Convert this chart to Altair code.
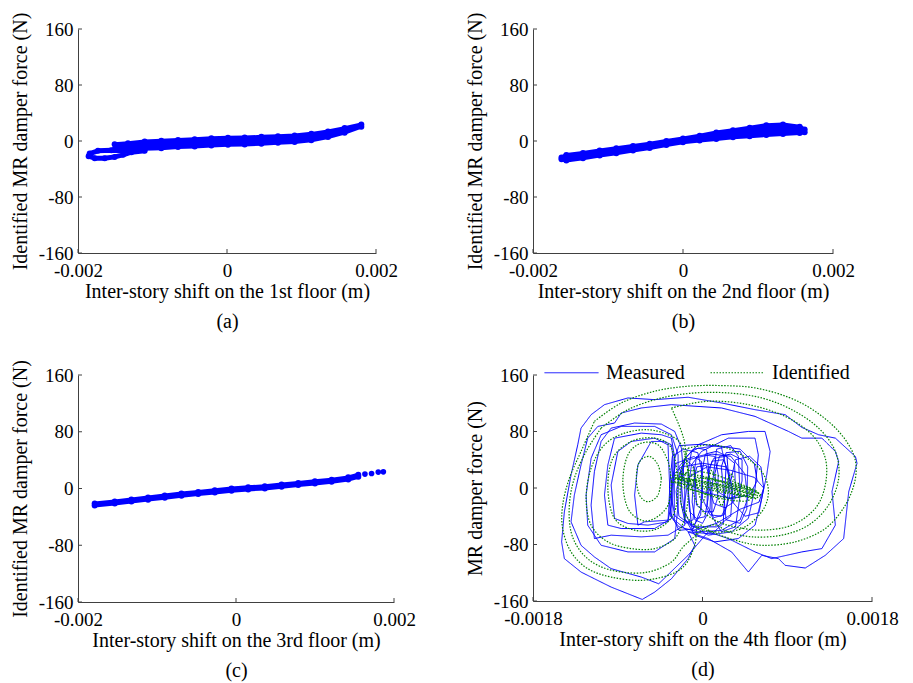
import altair as alt
import pandas as pd

FONT = "Liberation Serif"
BLUE = "#0000FF"
GREEN = "#008000"
AXIS_GREY = "#404040"

# ---------------- tick values ----------------
x_ticks_abc = [-0.002, 0, 0.002]
x_ticks_d = [-0.0018, 0, 0.0018]
y_ticks = [-160, -80, 0, 80, 160]

# ---------------- panel (a): 1st floor ----------------
a_x = [-0.001508, -0.001329, -0.001105, -0.000882, -0.000658, -0.000434, -0.000210, 0.000013,
       0.000237, 0.000461, 0.000684, 0.000908, 0.001132, 0.001356, 0.001579, 0.001803]
a_hi = [-4.6, -3.1, -0.8, 0.2, 1.6, 2.6, 4.0, 4.5, 5.0, 5.9, 6.9, 7.9, 10.2, 13.6, 18.4, 23.6]
a_lo = [-12.0, -12.0, -11.1, -10.2, -8.7, -7.7, -6.3, -5.4, -4.9, -3.9, -2.5, -1.5, 0.9, 5.6, 11.9, 20.5]
a_loop_x = [-0.001329, -0.001553, -0.001732, -0.001843, -0.001857, -0.001776, -0.001642,
            -0.001508, -0.001396, -0.001284, -0.001105]
a_loop_y = [-14.1, -13.1, -14.1, -17.9, -21.7, -24.6, -24.6, -22.7, -19.8, -16.0, -14.1]

# ---------------- panel (b): 2nd floor ----------------
b_x = [-0.001620, -0.001556, -0.001333, -0.001111, -0.000889, -0.000667, -0.000444, -0.000222,
       0.0, 0.000222, 0.000444, 0.000667, 0.000889, 0.001111, 0.001333, 0.001556, 0.001622]
b_hi = [-23.5, -20.0, -17.2, -13.4, -10.5, -7.2, -3.9, -0.1, 3.7, 7.5, 12.2, 15.5, 18.9, 22.6, 23.6, 20.3, 16.5]
b_lo = [-26.0, -27.9, -24.5, -20.8, -17.4, -13.6, -9.9, -5.6, -1.8, 0.6, 2.9, 5.3, 6.7, 8.6, 10.1, 11.5, 12.5]

# ---------------- panel (c): 3rd floor ----------------
c_x = [-0.001789, -0.001535, -0.001324, -0.001113, -0.000902, -0.000691, -0.000479, -0.000268,
       -0.000057, 0.000154, 0.000365, 0.000577, 0.000788, 0.000999, 0.001210, 0.001421, 0.001548]
c_hi = [-21.1, -18.3, -15.5, -12.7, -9.9, -7.1, -4.8, -2.5, -0.1, 1.7, 3.1, 5.5, 7.8, 10.1, 12.5, 15.7, 19.4]
c_lo = [-24.1, -21.3, -18.5, -15.7, -12.9, -10.1, -7.8, -5.5, -3.1, -1.3, 0.1, 2.5, 4.8, 7.1, 9.5, 12.7, 16.4]
c_dot_x = [0.001632, 0.001716, 0.001801, 0.001865]
c_dot_y = [20.3, 21.2, 23.1, 23.5]

# ---------------- panel (d): 4th floor, measured loops ----------------
measured_loops = [
    [(-0.000792, 127.5), (-0.000508, 125.1), (-0.000153, 128.5), (0.000203, 120.4), (0.000558, 110.9),
     (0.000878, 103.8), (0.001055, 85.8), (0.001233, 75.4), (0.001411, 70.6), (0.001624, 44.6),
     (0.001641, 35.1), (0.001553, -5.2), (0.001499, -71.6), (0.001304, -95.3), (0.001091, -113.3),
     (0.000878, -109.5), (0.000807, -100.0), (0.000629, -95.3), (0.000487, -119.0), (0.000309, -90.5),
     (0.000060, -71.6), (-0.000153, -62.1), (-0.000082, -81.1), (-0.000153, -100.0), (-0.000330, -128.5),
     (-0.000508, -147.4), (-0.000640, -157.8), (-0.000970, -140.3), (-0.001148, -128.5), (-0.001290, -119.0),
     (-0.001467, -100.0), (-0.001496, -76.3), (-0.001467, -33.7), (-0.001396, 18.5), (-0.001325, 61.1),
     (-0.001290, 84.8), (-0.001183, 103.8), (-0.001041, 118.0), (-0.000792, 127.5)],
    [(-0.000650, 113.3), (-0.000330, 118.0), (0.000203, 113.3), (0.000558, 101.4), (0.000913, 80.1),
     (0.001055, 70.6), (0.001268, 70.6), (0.001411, 51.7), (0.001446, 37.4), (0.001375, -5.2),
     (0.001411, -52.6), (0.001268, -85.8), (0.001055, -90.5), (0.000735, -100.0), (0.000558, -90.5),
     (0.000274, -71.6), (0.000060, -62.1), (-0.000153, -95.3), (-0.000465, -135.6), (-0.000650, -126.1),
     (-0.000970, -114.2), (-0.001148, -97.6), (-0.001290, -81.1), (-0.001396, -47.9), (-0.001361, -10.0),
     (-0.001290, 32.7), (-0.001219, 70.6), (-0.001112, 87.2), (-0.000934, 92.0), (-0.000863, 106.2),
     (-0.000650, 113.3)],
    [(-0.000046, 61.1), (0.000203, 75.4), (0.000487, 80.1), (0.000664, 80.1), (0.000718, 51.7),
     (0.000682, 18.5), (0.000629, -14.7), (0.000558, -52.6), (0.000380, -71.6), (0.000131, -76.3),
     (-0.000082, -66.8), (-0.000188, -43.1), (-0.000224, 4.3), (-0.000188, 42.2), (-0.000046, 61.1)],
    [(-0.000011, 51.7), (0.000274, 70.6), (0.000558, 70.6), (0.000593, 46.9), (0.000558, -0.5),
     (0.000487, -43.1), (0.000309, -62.1), (0.000060, -66.8), (-0.000117, -52.6), (-0.000153, -0.5),
     (-0.000117, 32.7), (-0.000011, 51.7)],
    [(-0.001148, -71.6), (-0.001183, -24.2), (-0.001148, 23.2), (-0.001077, 65.9), (-0.000970, 84.8),
     (-0.000721, 92.0), (-0.000437, 90.5), (-0.000295, 80.1), (-0.000224, 56.4), (-0.000188, -0.5),
     (-0.000188, -52.6), (-0.000366, -66.8), (-0.000650, -69.2), (-0.000970, -66.8), (-0.001148, -71.6)],
    [(-0.001077, -81.1), (-0.001219, -52.6), (-0.001236, -10.0), (-0.001183, 42.2), (-0.001077, 75.4),
     (-0.000863, 87.2), (-0.000508, 87.2), (-0.000330, 75.4), (-0.000259, 46.9), (-0.000259, -24.2),
     (-0.000295, -71.6), (-0.000508, -90.5), (-0.000792, -90.5), (-0.001077, -81.1)],
    [(-0.001005, -52.6), (-0.001041, -10.0), (-0.001005, 32.7), (-0.000934, 70.6), (-0.000650, 77.7),
     (-0.000437, 75.4), (-0.000330, 70.6), (-0.000295, 42.2), (-0.000330, -43.1), (-0.000508, -57.4),
     (-0.000863, -57.4), (-0.001005, -52.6)],
    [(-0.000934, -43.1), (-0.000970, 4.3), (-0.000899, 51.7), (-0.000757, 65.9), (-0.000508, 70.6),
     (-0.000366, 61.1), (-0.000348, -0.5), (-0.000366, -47.9), (-0.000579, -52.6), (-0.000792, -50.2),
     (-0.000934, -43.1)],
    [(-0.000686, -52.6), (-0.000721, -10.0), (-0.000686, 32.7), (-0.000544, 65.9), (-0.000401, 65.9),
     (-0.000330, 61.1), (-0.000313, 42.2), (-0.000330, -24.2), (-0.000366, -45.5), (-0.000615, -47.9),
     (-0.000686, -52.6)],
    [(-0.000153, 23.2), (-0.000117, 51.7), (-0.000046, 56.4), (0.000043, 54.0), (0.000068, 23.2),
     (0.000060, -14.7), (0.000025, -40.8), (-0.000064, -43.1), (-0.000135, -33.7), (-0.000153, -10.0),
     (-0.000153, 23.2)],
    [(-0.000082, 28.0), (-0.000064, 44.6), (0.000025, 46.9), (0.000131, 44.6), (0.000167, 18.5),
     (0.000160, -14.7), (0.000113, -33.7), (0.000025, -33.7), (-0.000064, -24.2), (-0.000082, 28.0)],
    [(-0.000224, 18.5), (-0.000188, 40.0), (-0.000090, 44.6), (-0.000011, 37.4), (0.0, 0.0),
     (-0.000020, -38.0), (-0.000090, -52.6), (-0.000190, -45.5), (-0.000230, -20.0), (-0.000224, 18.5)],
    [(-0.000010, 20.0), (0.000030, 48.0), (0.000150, 52.0), (0.000260, 45.0), (0.000280, 10.0),
     (0.000260, -25.0), (0.000200, -40.0), (0.000080, -38.0), (0.0, -15.0), (-0.000010, 20.0)],
    [(0.000060, 25.0), (0.000120, 42.0), (0.000250, 45.0), (0.000340, 35.0), (0.000350, 0.0),
     (0.000330, -20.0), (0.000240, -28.0), (0.000120, -22.0), (0.000070, 0.0), (0.000060, 25.0)],
    [(-0.000330, 10.0), (-0.000280, 35.0), (-0.000180, 40.0), (-0.000090, 30.0), (-0.000080, -10.0),
     (-0.000100, -45.0), (-0.000180, -50.0), (-0.000290, -40.0), (-0.000330, -15.0), (-0.000330, 10.0)],
    [(0.000130, 20.0), (0.000180, 45.0), (0.000300, 48.0), (0.000420, 40.0), (0.000420, 10.0),
     (0.000380, -10.0), (0.000280, -15.0), (0.000160, -5.0), (0.000130, 20.0)],
    [(-0.000250, 30.0), (-0.000100, 55.0), (0.000150, 60.0), (0.000400, 55.0), (0.000550, 35.0),
     (0.000580, 10.0), (0.000500, -10.0), (0.000300, -15.0), (0.0, -5.0), (-0.000200, 10.0), (-0.000250, 30.0)],
    [(-0.000350, -20.0), (-0.000300, 20.0), (-0.000150, 40.0), (0.000100, 48.0), (0.000300, 45.0),
     (0.000450, 20.0), (0.000480, -15.0), (0.000400, -45.0), (0.000200, -60.0), (-0.000050, -62.0),
     (-0.000250, -55.0), (-0.000340, -40.0), (-0.000350, -20.0)],
    [(-0.000280, -5.0), (-0.000220, 30.0), (0.0, 35.0), (0.000250, 30.0), (0.000320, 0.0),
     (0.000300, -40.0), (0.000150, -55.0), (-0.000100, -55.0), (-0.000250, -40.0), (-0.000280, -5.0)],
    [(0.000050, 10.0), (0.000100, 38.0), (0.000220, 40.0), (0.000290, 20.0), (0.000290, -10.0),
     (0.000230, -38.0), (0.000120, -42.0), (0.000050, -25.0), (0.000050, 10.0)],
    [(-0.000100, 5.0), (-0.000060, 30.0), (0.000040, 32.0), (0.000090, 5.0), (0.000080, -30.0),
     (0.0, -50.0), (-0.000080, -45.0), (-0.000110, -20.0), (-0.000100, 5.0)],
    [(-0.000200, -30.0), (-0.000150, 15.0), (0.000050, 30.0), (0.000300, 25.0), (0.000550, 15.0),
     (0.000650, 0.0), (0.000600, -20.0), (0.000400, -30.0), (0.000150, -50.0), (-0.000100, -60.0),
     (-0.000200, -30.0)],
    [(-0.000300, 40.0), (-0.000250, 60.0), (0.0, 62.0), (0.000200, 58.0), (0.000250, 30.0),
     (0.000220, -50.0), (0.000100, -65.0), (-0.000150, -62.0), (-0.000300, -45.0), (-0.000300, 40.0)],
    [(0.000200, 30.0), (0.000250, 50.0), (0.000400, 52.0), (0.000480, 30.0), (0.000470, -30.0),
     (0.000400, -50.0), (0.000250, -45.0), (0.000200, 30.0)],
    [(-0.000350, 0.0), (-0.000320, 45.0), (-0.000200, 55.0), (-0.000050, 50.0), (0.0, 20.0),
     (-0.000020, -30.0), (-0.000100, -58.0), (-0.000250, -60.0), (-0.000340, -35.0), (-0.000350, 0.0)],
    [(0.000100, 0.0), (0.000150, 55.0), (0.000300, 60.0), (0.000380, 45.0), (0.000400, -10.0),
     (0.000350, -55.0), (0.000200, -62.0), (0.000100, -40.0), (0.000100, 0.0)],
    [(0.000300, 10.0), (0.000350, 40.0), (0.000500, 45.0), (0.000620, 30.0), (0.000650, 0.0),
     (0.000600, -35.0), (0.000450, -40.0), (0.000320, -20.0), (0.000300, 10.0)],
]

# ---------------- panel (d): 4th floor, identified loops ----------------
identified_loops = [
    [(-0.001148, 94.3), (-0.000863, 120.4), (-0.000508, 137.0), (-0.000153, 144.1), (0.000203, 145.0),
     (0.000558, 141.7), (0.000913, 128.5), (0.001197, 108.5), (0.001446, 80.1), (0.001606, 46.9),
     (0.001624, 13.7), (0.001517, -24.2), (0.001304, -57.4), (0.000984, -76.3), (0.000629, -81.1),
     (0.000345, -73.9), (0.000096, -62.1), (-0.000046, -52.6), (-0.000082, -81.1), (-0.000188, -109.5),
     (-0.000366, -123.7), (-0.000650, -130.8), (-0.000970, -126.1), (-0.001219, -114.2), (-0.001396, -90.5),
     (-0.001485, -57.4), (-0.001485, -24.2), (-0.001414, 13.7), (-0.001290, 51.7), (-0.001148, 94.3)],
    [(-0.001077, 84.8), (-0.000792, 110.9), (-0.000437, 127.5), (-0.000082, 134.6), (0.000274, 134.6),
     (0.000629, 127.5), (0.000949, 110.9), (0.001233, 84.8), (0.001411, 51.7), (0.001446, 13.7),
     (0.001339, -24.2), (0.001126, -52.6), (0.000842, -66.8), (0.000522, -69.2), (0.000274, -62.1),
     (0.000096, -52.6), (-0.000188, -81.1), (-0.000330, -104.8), (-0.000579, -119.0), (-0.000863, -119.0),
     (-0.001112, -109.5), (-0.001290, -90.5), (-0.001396, -62.1), (-0.001414, -24.2), (-0.001361, 13.7),
     (-0.001236, 51.7), (-0.001077, 84.8)],
    [(-0.000330, 113.3), (0.000060, 122.8), (0.000487, 118.0), (0.000878, 101.4), (0.001162, 75.4),
     (0.001304, 42.2), (0.001304, 4.3), (0.001197, -28.9), (0.000949, -52.6), (0.000629, -59.7),
     (0.000345, -55.0), (0.000131, -45.5), (-0.000046, -24.2), (-0.000150, 20.0), (-0.000200, 70.0),
     (-0.000330, 113.3)],
    [(-0.000188, -43.1), (-0.000295, -71.6), (-0.000508, -85.8), (-0.000757, -85.8), (-0.001005, -76.3),
     (-0.001183, -52.6), (-0.001236, -14.7), (-0.001183, 28.0), (-0.001041, 61.1), (-0.000828, 77.7),
     (-0.000579, 82.5), (-0.000366, 75.4), (-0.000224, 61.1), (-0.000153, 23.2), (-0.000153, -14.7),
     (-0.000188, -43.1)],
    [(-0.000259, 13.7), (-0.000295, -33.7), (-0.000473, -57.4), (-0.000721, -59.7), (-0.000934, -43.1),
     (-0.001005, -0.5), (-0.000952, 42.2), (-0.000757, 65.9), (-0.000508, 70.6), (-0.000330, 56.4),
     (-0.000259, 13.7)],
    [(-0.000330, 9.0), (-0.000366, -24.2), (-0.000508, -43.1), (-0.000650, -45.5), (-0.000792, -28.9),
     (-0.000846, 9.0), (-0.000792, 46.9), (-0.000650, 63.5), (-0.000473, 61.1), (-0.000366, 37.4),
     (-0.000330, 9.0)],
    [(-0.000437, 13.7), (-0.000473, -10.0), (-0.000579, -19.4), (-0.000668, -10.0), (-0.000703, 13.7),
     (-0.000668, 37.4), (-0.000561, 44.6), (-0.000473, 32.7), (-0.000437, 13.7)],
    [(-0.000153, 56.4), (0.000131, 61.1), (0.000416, 46.9), (0.000629, 23.2), (0.000700, -5.2),
     (0.000629, -33.7), (0.000416, -57.4), (0.000131, -62.1), (-0.000082, -52.6), (-0.000224, -24.2),
     (-0.000224, 23.2), (-0.000153, 56.4)],
    [(-0.000320, 15.0), (-0.000100, 12.0), (0.000150, 6.0), (0.000400, 0.0), (0.000600, -8.0),
     (0.000550, -14.0), (0.000300, -8.0), (0.000050, -2.0), (-0.000200, 5.0), (-0.000320, 10.0)],
    [(-0.000280, 22.0), (-0.000050, 18.0), (0.000200, 10.0), (0.000450, 2.0), (0.000580, -5.0),
     (0.000500, -12.0), (0.000250, -5.0), (0.0, 3.0), (-0.000250, 12.0), (-0.000280, 22.0)],
    [(-0.000200, 8.0), (0.000050, 14.0), (0.000300, 4.0), (0.000500, -4.0), (0.000350, -14.0),
     (0.000100, -10.0), (-0.000150, 0.0), (-0.000200, 8.0)],
    [(-0.000150, 25.0), (0.000100, 20.0), (0.000350, 8.0), (0.000520, -2.0), (0.000480, -18.0),
     (0.000200, -15.0), (-0.000050, -5.0), (-0.000250, 5.0), (-0.000150, 25.0)],
    [(-0.000300, 18.0), (0.0, 8.0), (0.000300, 0.0), (0.000550, -10.0), (0.000300, -2.0),
     (0.0, 6.0), (-0.000300, 14.0)],
    [(-0.000100, 30.0), (0.0, -20.0), (0.000100, 25.0), (0.000200, -25.0), (0.000300, 20.0),
     (0.000400, -20.0)],
    [(-0.000300, 12.0), (-0.000050, 10.0), (0.000250, 2.0), (0.000500, -6.0), (0.000600, -12.0)],
    [(-0.000250, 20.0), (0.0, 14.0), (0.000300, 6.0), (0.000550, -4.0), (0.000620, -10.0)],
    [(-0.000320, 8.0), (-0.000100, 4.0), (0.000200, -2.0), (0.000450, -10.0), (0.000580, -16.0)],
]

SERIES = ["Measured", "Identified"]

# ---------------- helpers ----------------
X_EXPR = "datum.value < 0 ? '-' + format(-datum.value, '.4~f') : format(datum.value, '.4~f')"
Y_EXPR = "datum.value < 0 ? '-' + format(-datum.value, 'd') : format(datum.value, 'd')"


def axes(xdom, xticks, xtitle, ytitle):
    xs = alt.Scale(domain=xdom, nice=False, zero=False)
    ys = alt.Scale(domain=[-160, 160], nice=False, zero=False)
    xa = alt.Axis(values=xticks, labelExpr=X_EXPR, title=xtitle)
    ya = alt.Axis(values=y_ticks, labelExpr=Y_EXPR, title=ytitle)
    return xs, ys, xa, ya


def tick_layers(xs, ys, xa, ya, xticks, h):
    xt = alt.Chart(pd.DataFrame({"v": xticks})).mark_rule(color=AXIS_GREY, strokeWidth=1).encode(
        x=alt.X("v:Q", scale=xs, axis=xa), y=alt.value(h), y2=alt.value(h - 4))
    yt = alt.Chart(pd.DataFrame({"v": y_ticks})).mark_rule(color=AXIS_GREY, strokeWidth=1).encode(
        y=alt.Y("v:Q", scale=ys, axis=ya), x=alt.value(0), x2=alt.value(4))
    return [xt, yt]


def scatter_panel(xv, lo, hi, xtitle, w, h, extra=None):
    xs, ys, xa, ya = axes([-0.002, 0.002], x_ticks_abc, xtitle, "Identified MR damper force (N)")
    band = pd.DataFrame({"x": xv, "lo": lo, "hi": hi})
    area = alt.Chart(band).mark_area(color=BLUE, stroke=BLUE, strokeWidth=4, strokeJoin="round",
                                     opacity=1).encode(
        x=alt.X("x:Q", scale=xs, axis=xa), y=alt.Y("lo:Q", scale=ys, axis=ya), y2="hi:Q")
    pts = pd.concat([pd.DataFrame({"x": xv, "y": lo}), pd.DataFrame({"x": xv, "y": hi})])
    dots = alt.Chart(pts).mark_circle(color=BLUE, size=36, opacity=1).encode(
        x=alt.X("x:Q", scale=xs, axis=xa), y=alt.Y("y:Q", scale=ys, axis=ya))
    layers = [area, dots]
    if extra is not None:
        layers += extra(xs, ys, xa, ya)
    layers += tick_layers(xs, ys, xa, ya, x_ticks_abc, h)
    return alt.layer(*layers).properties(width=w, height=h)


def a_extra(xs, ys, xa, ya):
    df = pd.DataFrame({"x": a_loop_x, "y": a_loop_y, "i": list(range(len(a_loop_x)))})
    line = alt.Chart(df).mark_line(color=BLUE, strokeWidth=5, strokeCap="round", strokeJoin="round").encode(
        x=alt.X("x:Q", scale=xs, axis=xa), y=alt.Y("y:Q", scale=ys, axis=ya), order="i:Q")
    dots = alt.Chart(df).mark_circle(color=BLUE, size=36, opacity=1).encode(
        x=alt.X("x:Q", scale=xs, axis=xa), y=alt.Y("y:Q", scale=ys, axis=ya))
    return [line, dots]


def c_extra(xs, ys, xa, ya):
    df = pd.DataFrame({"x": c_dot_x, "y": c_dot_y})
    return [alt.Chart(df).mark_circle(color=BLUE, size=32, opacity=1).encode(
        x=alt.X("x:Q", scale=xs, axis=xa), y=alt.Y("y:Q", scale=ys, axis=ya))]


pa = scatter_panel(a_x, a_lo, a_hi, ["Inter-story shift on the 1st floor (m)", "(a)"], 298, 224, a_extra)
pb = scatter_panel(b_x, b_lo, b_hi, ["Inter-story shift on the 2nd floor (m)", "(b)"], 300, 224)
pc = scatter_panel(c_x, c_lo, c_hi, ["Inter-story shift on the 3rd floor (m)", "(c)"], 316, 227, c_extra)


def loops_df(loops, series):
    rows = []
    for k, loop in enumerate(loops):
        for i, (x, y) in enumerate(loop):
            rows.append({"x": x, "y": y, "loop": f"{series}{k}", "i": i, "series": series})
    return pd.DataFrame(rows)


xs, ys, xa, ya = axes([-0.0018, 0.0018], x_ticks_d,
                      ["Inter-story shift on the 4th floor (m)", "(d)"], "MR damper force (N)")
# legend lives in the top-level group: legendX/legendY are relative to panel (a)'s top-left corner
leg = alt.Legend(title=None, orient="none", legendX=466, legendY=316, direction="horizontal",
                 symbolType="stroke", symbolSize=2916, symbolStrokeWidth=1, labelFont=FONT,
                 labelFontSize=20, labelColor="black", labelOffset=7, columnPadding=23, padding=0)
col = alt.Color("series:N", scale=alt.Scale(domain=SERIES, range=[BLUE, GREEN]), legend=leg)
dash = alt.StrokeDash("series:N", scale=alt.Scale(domain=SERIES, range=[[1, 0], [1.5, 1.5]]), legend=leg)

meas = alt.Chart(loops_df(measured_loops, "Measured")).mark_line(strokeWidth=1).encode(
    x=alt.X("x:Q", scale=xs, axis=xa), y=alt.Y("y:Q", scale=ys, axis=ya),
    color=col, strokeDash=dash, detail="loop:N", order="i:Q")
ident = alt.Chart(loops_df(identified_loops, "Identified")).mark_line(strokeWidth=1.2, interpolate="cardinal").encode(
    x=alt.X("x:Q", scale=xs, axis=xa), y=alt.Y("y:Q", scale=ys, axis=ya),
    color=col, strokeDash=dash, detail="loop:N", order="i:Q")
pd_panel = alt.layer(meas, ident, *tick_layers(xs, ys, xa, ya, x_ticks_d, 226)).properties(width=339, height=226)

chart = alt.concat(pa, pb, pc, pd_panel, columns=2, spacing={"row": 122, "column": 139},
                   bounds="flush", padding={"left": 10, "top": 12, "right": 5, "bottom": 5}).configure_view(
    stroke=None).configure_axis(
    domainColor=AXIS_GREY, domainWidth=1, ticks=False, tickSize=0, grid=False,
    labelFont=FONT, labelFontSize=19, labelColor="black", labelFlush=False, labelOverlap=False,
    titleFont=FONT, titleFontSize=20, titleFontWeight="normal", titleColor="black").configure_axisX(
    labelPadding=8, titlePadding=1, titleLineHeight=30).configure_axisY(
    labelPadding=5, titlePadding=8)

chart.save("out.html", embed_options={"renderer": "svg", "actions": False})
